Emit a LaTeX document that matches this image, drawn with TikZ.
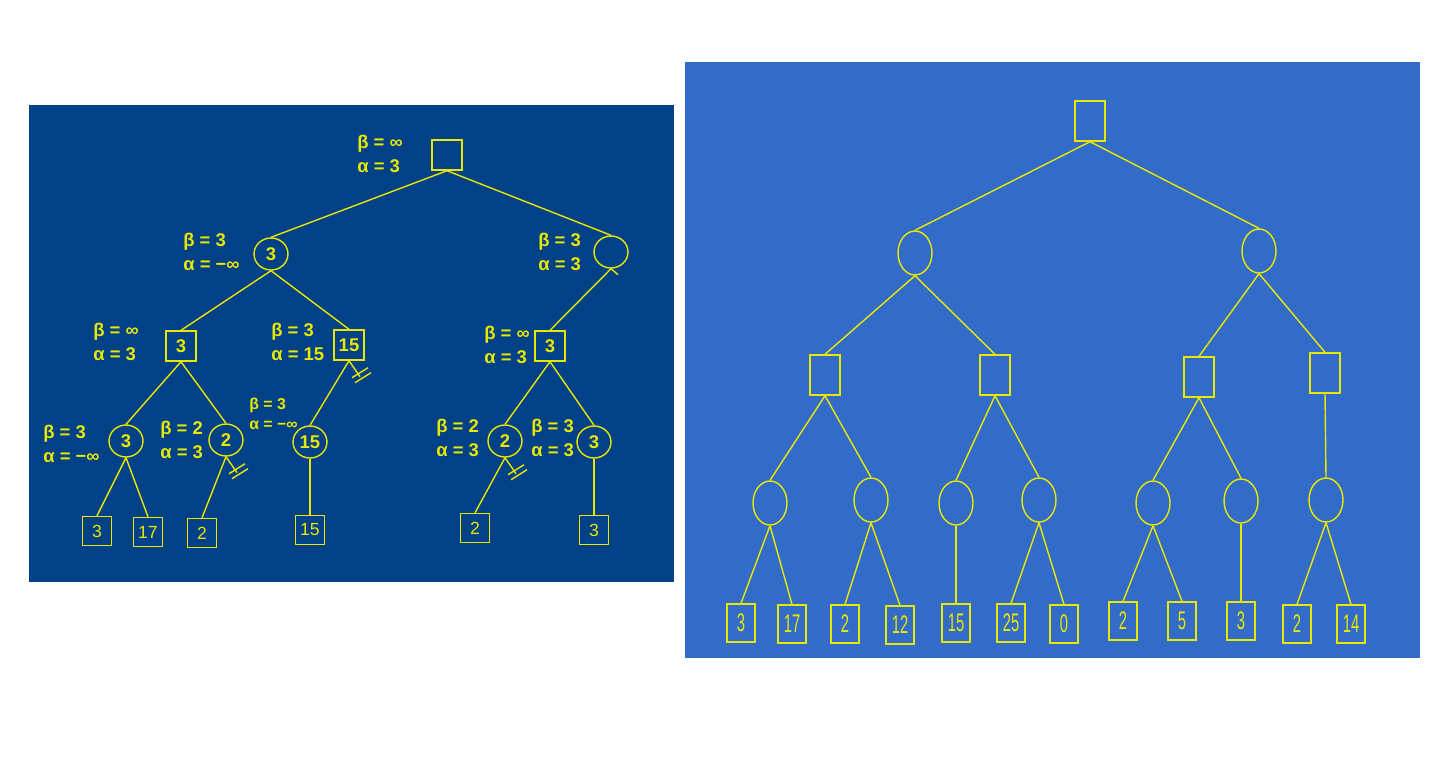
\documentclass[tikz,border=0pt]{standalone}
\usepackage{fontspec}
\setmainfont{Liberation Sans}
\newfontfamily\narrowfont[FakeStretch=0.58]{Liberation Sans}
\usetikzlibrary{shapes.geometric}
\definecolor{darkpanel}{RGB}{0,65,135}
\definecolor{lightpanel}{RGB}{51,108,200}
\definecolor{ylw}{RGB}{232,232,0}

\begin{document}
\begin{tikzpicture}[x=0.02cm,y=-0.02cm,
 edge/.style={draw=ylw,line width=0.8pt},
 box/.style={rectangle,draw=ylw,line width=0.8pt,inner sep=0pt,text=ylw},
 oval/.style={ellipse,draw=ylw,line width=0.8pt,inner sep=0pt,text=ylw},
 lmax/.style={box,minimum width=0.6cm,minimum height=0.6cm,font=\bfseries\fontsize{10.5}{10.5}\selectfont},
 lmin/.style={oval,minimum width=0.68cm,minimum height=0.64cm,font=\bfseries\fontsize{10.5}{10.5}\selectfont},
 lleaf/.style={box,minimum width=0.58cm,minimum height=0.58cm,font=\fontsize{10}{10}\selectfont},
 bound/.style={text=ylw,align=left,anchor=west,inner sep=0pt,font=\bfseries\fontsize{10.5}{13.6}\selectfont},
 rmax/.style={box,minimum width=0.6cm,minimum height=0.8cm},
 rmin/.style={oval,minimum width=0.68cm,minimum height=0.88cm},
 rleaf/.style={box,minimum width=0.56cm,minimum height=0.76cm,font=\narrowfont\fontsize{14.5}{14.5}\selectfont}]

 % panels
 \fill[white] (0,0) rectangle (1434,782);
 \useasboundingbox (0,0) rectangle (1434,782);
 \fill[darkpanel] (29,105) rectangle (674,582);
 \fill[lightpanel] (685,62) rectangle (1420,658);

 % left tree, alpha-beta values
 \node[lmax] (lr) at (447,155) {};
 \node[lmin] (l1) at (271,254) {3};
 \node[lmin] (l2) at (611,252) {};
 \node[lmax] (l11) at (181,346) {3};
 \node[lmax] (l12) at (349,345) {15};
 \node[lmax] (l21) at (550,346) {3};
 \node[lmin] (l111) at (126,441) {3};
 \node[lmin] (l112) at (226,440) {2};
 \node[lmin] (l121) at (310,442) {15};
 \node[lmin] (l211) at (505,441) {2};
 \node[lmin] (l212) at (594,442) {3};
 \node[lleaf] (t1) at (97,531) {3};
 \node[lleaf] (t2) at (148,532) {17};
 \node[lleaf] (t3) at (202,533) {2};
 \node[lleaf] (t4) at (310,530) {15};
 \node[lleaf] (t5) at (475,528) {2};
 \node[lleaf] (t6) at (594,530) {3};

 \foreach \p/\c in {lr/l1,lr/l2,l1/l11,l1/l12,l2/l21,l11/l111,l11/l112,l12/l121,
   l21/l211,l21/l212,l111/t1,l111/t2,l112/t3,l121/t4,l211/t5,l212/t6}
   \draw[edge] (\p.south) -- (\c.north);

 \node[bound] (b0) at (357,154) {β = ∞\\α = 3};
 \node[bound] (b1) at (183,252) {β = 3\\α = −∞};
 \node[bound] (b2) at (538,252) {β = 3\\α = 3};
 \node[bound] (b11) at (93,342) {β = ∞\\α = 3};
 \node[bound] (b12) at (271,342) {β = 3\\α = 15};
 \node[bound] (b21) at (484,345) {β = ∞\\α = 3};
 \node[bound] (b111) at (43,444) {β = 3\\α = −∞};
 \node[bound] (b112) at (160,440) {β = 2\\α = 3};
 \node[bound,font=\bfseries\fontsize{9}{11.3}\selectfont] (b121) at (249,414) {β = 3\\α = −∞};
 \node[bound] (b211) at (436,438) {β = 2\\α = 3};
 \node[bound] (b212) at (531,438) {β = 3\\α = 3};

 % cut-off marks
 \draw[edge] (l2.south) -- ++(7,6);
 \draw[edge] (l12.south) -- ++(11,16) coordinate (k1);
 \draw[edge] (k1) ++(-8,1) -- ++(16,-10) (k1) ++(-5,6) -- ++(16,-10);
 \draw[edge] (l112.south) -- ++(11,16) coordinate (k2);
 \draw[edge] (k2) ++(-8,1) -- ++(16,-10) (k2) ++(-5,6) -- ++(16,-10);
 \draw[edge] (l211.south) -- ++(11,16) coordinate (k3);
 \draw[edge] (k3) ++(-8,1) -- ++(16,-10) (k3) ++(-5,6) -- ++(16,-10);

 % right tree
 \node[rmax] (rr) at (1090,121) {};
 \node[rmin] (r1) at (915,253) {};
 \node[rmin] (r2) at (1259,251) {};
 \node[rmax] (r11) at (825,375) {};
 \node[rmax] (r12) at (995,375) {};
 \node[rmax] (r21) at (1199,377) {};
 \node[rmax] (r22) at (1325,373) {};
 \node[rmin] (r111) at (770,503) {};
 \node[rmin] (r112) at (871,500) {};
 \node[rmin] (r121) at (956,503) {};
 \node[rmin] (r122) at (1039,500) {};
 \node[rmin] (r211) at (1153,503) {};
 \node[rmin] (r212) at (1241,501) {};
 \node[rmin] (r221) at (1326,500) {};
 \foreach \n/\x/\y/\v in {1/741/623/3, 2/792/624/17, 3/845/624/2, 4/900/625/12,
   5/956/623/15, 6/1011/623/25, 7/1064/624/0, 8/1123/621/2, 9/1182/621/5,
   10/1241/621/3, 11/1297/624/2, 12/1351/624/14}
   \node[rleaf] (s\n) at (\x,\y) {\v};

 \foreach \p/\c in {rr/r1,rr/r2,r1/r11,r1/r12,r2/r21,r2/r22,r11/r111,r11/r112,
   r12/r121,r12/r122,r21/r211,r21/r212,r22/r221,r111/s1,r111/s2,r112/s3,r112/s4,
   r121/s5,r122/s6,r122/s7,r211/s8,r211/s9,r212/s10,r221/s11,r221/s12}
   \draw[edge] (\p.south) -- (\c.north);
\end{tikzpicture}
\end{document}
